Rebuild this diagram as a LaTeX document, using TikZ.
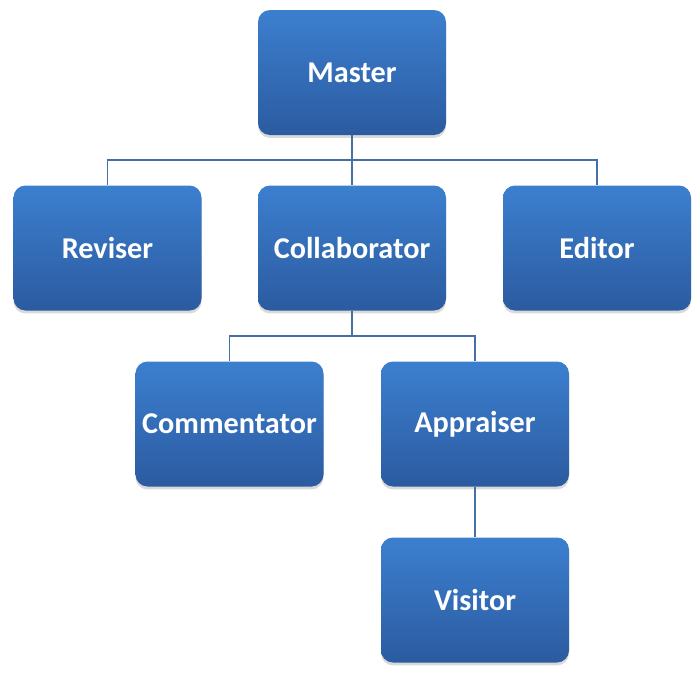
\documentclass[tikz,border=0pt]{standalone}
\usepackage{fontspec}
\setmainfont{Carlito}
\usetikzlibrary{shadows}

\begin{document}
\begin{tikzpicture}[
        role/.style={rectangle, rounded corners=0.36cm, minimum width=5.64cm, minimum height=3.75cm,
            top color=roletop, bottom color=rolebottom, draw=none, text=white,
            font=\fontsize{25.8}{30}\selectfont\bfseries,
            drop shadow={opacity=0.3, shadow xshift=0pt, shadow yshift=-2.5pt}},
        link/.style={draw=linkblue, line width=1.5pt}
    ]
            \definecolor{roletop}{RGB}{60, 127, 207}
            \definecolor{rolebottom}{RGB}{43, 91, 160}
            \definecolor{linkblue}{RGB}{70, 112, 165}
            \useasboundingbox (0, 0) rectangle (21, -20.43);

            % Draw top box
            \node[role] (Master) at (10.56, -2.175) {Master};

            % Draw second row of boxes
            \foreach \name/\x in {Reviser/3.225, Collaborator/10.56, Editor/17.91} {
                    \node[role] (\name) at (\x, -7.44) {\name};
                }

            % Draw third and fourth rows
            \node[role] (Commentator) at (6.885, -12.72) {Commentator};
            \node[role] (Appraiser) at (14.25, -12.72) {Appraiser};
            \node[role] (Visitor) at (14.25, -18.0) {Visitor};

            % Connect master to second row
            \coordinate (bus1) at (10.56, -4.8);
            \draw[link] (Master) -- (bus1);
            \draw[link] (bus1) -| (Reviser);
            \draw[link] (bus1) -| (Editor);
            \draw[link] (bus1) -- (Collaborator);

            % Connect collaborator to third row
            \coordinate (bus2) at (10.56, -10.08);
            \draw[link] (Collaborator) -- (bus2);
            \draw[link] (bus2) -| (Commentator);
            \draw[link] (bus2) -| (Appraiser);

            % Connect appraiser to visitor
            \draw[link] (Appraiser) -- (Visitor);
\end{tikzpicture}
\end{document}
